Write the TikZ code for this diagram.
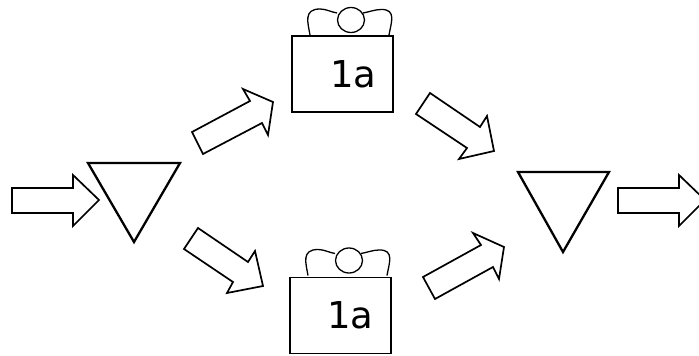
\documentclass[tikz,border=0pt]{standalone}
\usepackage{fontspec}
\setmainfont{DejaVu Sans}
\tikzset{
  flowarrow/.style={line width=1.7pt, fill=white},
  storage/.style={line width=2.3pt},
  station/.style={draw, line width=1.6pt, minimum width=101pt, minimum height=76pt,
                  inner sep=0pt, font=\fontsize{37}{37}\selectfont},
  worker/.pic={
    \draw[line width=1.3pt] (0,0) ellipse [x radius=13.5, y radius=12.5];
    \draw[line width=1.3pt] (-41,15) .. controls (-43,3) and (-48,-11) .. (-31,-11)
                             .. controls (-25,-11) and (-20,-8) .. (-14,-7);
    \draw[line width=1.3pt] (38,15) .. controls (40,3) and (46,-11) .. (30,-10.5)
                             .. controls (24,-10.5) and (18,-8) .. (12,-7);
  }
}

\begin{document}
\begin{tikzpicture}[x=1pt, y=-1pt]
\useasboundingbox (0,0) rectangle (699,356);

\draw[storage] (88,163) -- (180,163) -- (134,242) -- cycle;
\draw[storage] (518,172) -- (609,172) -- (563,252) -- cycle;

\draw[flowarrow] (12,188) -- (73,188) -- (73,175) -- (99,200) -- (73,226) -- (73,213) -- (12,213) -- cycle;
\draw[flowarrow] (192,132) -- (250,101) -- (243,89) -- (273,102) -- (268,135) -- (262,123) -- (203,154) -- cycle;
\draw[flowarrow] (198,228) -- (248,262) -- (255,251) -- (263,286) -- (227,293) -- (233,282) -- (184,249) -- cycle;
\draw[flowarrow] (430,93) -- (480,127) -- (487,116) -- (494,151) -- (459,159) -- (467,148) -- (416,114) -- cycle;
\draw[flowarrow] (423,277) -- (481,245) -- (473,233) -- (504,247) -- (499,279) -- (493,267) -- (435,299) -- cycle;
\draw[flowarrow] (618,188) -- (679,188) -- (679,175) -- (705,200) -- (679,226) -- (679,213) -- (618,213) -- cycle;

\node[station] (upper) at (342.5,74) {\hspace*{22pt}1a};
\node[station] (lower) at (340.5,315.5) {\hspace*{20pt}1a};

\pic at (351,20) {worker};
\pic at (349,260.5) {worker};

\end{tikzpicture}
\end{document}
